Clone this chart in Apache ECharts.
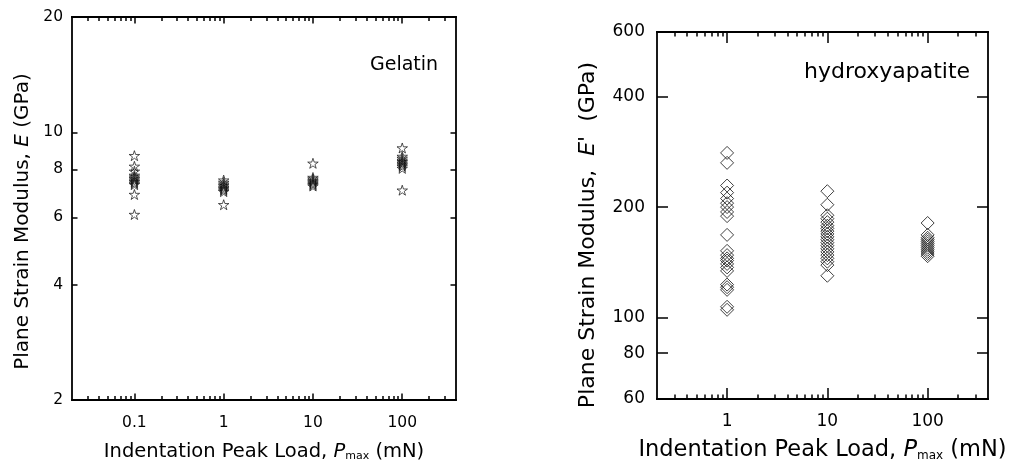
<!DOCTYPE html>
<html><head><meta charset="utf-8">
<script src="https://cdn.jsdelivr.net/npm/echarts@6/dist/echarts.min.js"></script>
<style>html,body{margin:0;padding:0;background:#fff}#c{width:1013px;height:467px}</style>
</head><body><div id="c"></div>
<script>
// ---- data ----
const gelLoads = [0.1, 1, 10, 100];
const gelAt01 = [8.69, 8.15, 7.91, 7.72, 7.64, 7.57, 7.50, 7.43, 7.36, 7.30, 6.88, 6.10];
const gelAt1 = [7.50, 7.40, 7.32, 7.25, 7.18, 7.12, 7.06, 7.00, 6.47];
const gelAt10 = [8.30, 7.62, 7.55, 7.48, 7.42, 7.36, 7.30, 7.24];
const gelAt100 = [9.10, 8.65, 8.55, 8.45, 8.38, 8.30, 8.22, 8.15, 8.05, 7.06];

const haLoads = [1, 10, 100];
const haAt1 = [281, 264, 229, 219, 211, 205, 200, 194, 189, 168, 152, 148, 145, 143, 140, 137, 134, 123, 121, 119, 107, 105];
const haAt10 = [221, 203, 190, 186, 182, 178, 175, 172, 169, 166, 163, 160, 157, 154, 151, 148, 145, 142, 139, 130];
const haAt100 = [181, 168, 165, 163, 161, 159, 157, 155, 153, 151, 149, 147];

// ---- ticks ----
const gelXLabels = [0.1, 1, 10, 100];
const gelXMinor = [0.03,0.04,0.05,0.06,0.07,0.08,0.09,0.2,0.3,0.4,0.5,0.6,0.7,0.8,0.9,2,3,4,5,6,7,8,9,20,30,40,50,60,70,80,90,200,300];
const gelYLabels = [2, 4, 6, 8, 10, 20];
const gelYTicks = [4, 6, 8, 10];
const haXLabels = [1, 10, 100];
const haXMinor = [0.3,0.4,0.5,0.6,0.7,0.8,0.9,2,3,4,5,6,7,8,9,20,30,40,50,60,70,80,90,200,300];
const haYLabels = [60, 80, 100, 200, 400, 600];
const haYTicks = [80, 100, 200, 400];

const FONT = 'DejaVu Sans';
const BLACK = '#000';
const fmt = v => String(+(+v).toPrecision(6));

function pairs(x, ys) { return ys.map(y => [x, y]); }
const gelSeriesData = [].concat(
  pairs(gelLoads[0], gelAt01), pairs(gelLoads[1], gelAt1),
  pairs(gelLoads[2], gelAt10), pairs(gelLoads[3], gelAt100));
const haSeriesData = [].concat(
  pairs(haLoads[0], haAt1), pairs(haLoads[1], haAt10), pairs(haLoads[2], haAt100));

const STAR = 'path://M50 0 L61.17 34.63 L97.55 34.55 L68.07 55.87 L79.39 90.45 L50 69 L20.61 90.45 L31.93 55.87 L2.45 34.55 L38.83 34.63 Z';

function line() { return {show: true, lineStyle: {color: BLACK, width: 1.8}}; }
function tick(len, vals) { return {show: true, inside: true, length: len, customValues: vals, lineStyle: {color: BLACK, width: 1.5}}; }

function xAxes(grid, min, max, labels, minor, majLen, minLen, fs, nfs, subShift, gap, margin) {
  const base = () => ({type: 'log', logBase: 10, gridIndex: grid, min: min, max: max, splitLine: {show: false}, axisLine: line()});
  return [
    Object.assign(base(), {position: 'bottom',
      axisTick: tick(majLen, labels),
      axisLabel: {customValues: labels, formatter: fmt, color: BLACK, fontFamily: FONT, fontSize: fs, margin: margin},
      name: '{n|Indentation Peak Load, }{i|P}{s|max}{n| (mN)}', nameLocation: 'middle', nameGap: gap,
      nameTextStyle: {color: BLACK, fontFamily: FONT, rich: {
        n: {fontFamily: FONT, fontSize: nfs, color: BLACK},
        i: {fontFamily: FONT, fontSize: nfs, fontStyle: 'italic', color: BLACK},
        s: {fontFamily: FONT, fontSize: Math.round(nfs*0.55), color: BLACK, padding: [subShift*2, 0, 0, 0]}}}}),
    Object.assign(base(), {position: 'bottom', axisTick: tick(minLen, minor), axisLabel: {show: false}}),
    Object.assign(base(), {position: 'top', axisTick: tick(majLen, labels), axisLabel: {show: false}}),
    Object.assign(base(), {position: 'top', axisTick: tick(minLen, minor), axisLabel: {show: false}})
  ];
}
function yAxes(grid, min, max, labels, ticks, len, fs, nameRich, nfs, gap, shift, margin) {
  const base = () => ({type: 'log', logBase: 10, gridIndex: grid, min: min, max: max, splitLine: {show: false}, axisLine: line()});
  return [
    Object.assign(base(), {position: 'left',
      axisTick: tick(len, ticks),
      axisLabel: {customValues: labels, formatter: fmt, color: BLACK, fontFamily: FONT, fontSize: fs, margin: margin},
      name: nameRich, nameLocation: 'middle', nameGap: gap,
      nameTextStyle: {color: BLACK, fontFamily: FONT, padding: [0, shift, 0, 0], rich: {
        n: {fontFamily: FONT, fontSize: nfs, color: BLACK},
        i: {fontFamily: FONT, fontSize: nfs, fontStyle: 'italic', color: BLACK}}}}),
    Object.assign(base(), {position: 'right', axisTick: tick(len, ticks), axisLabel: {show: false}})
  ];
}

const option = {
  animation: false,
  backgroundColor: '#fff',
  grid: [
    {left: 72, top: 17, width: 384, height: 384},
    {left: 657, top: 32, width: 331, height: 367}
  ],
  xAxis: [].concat(
    xAxes(0, 0.02, 400, gelXLabels, gelXMinor, 6.5, 4, 15.5, 19.5, 5, 41, 15),
    xAxes(1, 0.2, 400, haXLabels, haXMinor, 11, 4.5, 17, 22.5, 6, 39, 14)
  ),
  yAxis: [].concat(
    yAxes(0, 2, 20, gelYLabels, gelYTicks, 5.5, 15.5, '{n|Plane Strain Modulus, }{i|E}{n| (GPa)}', 20, 39, 26, 9),
    yAxes(1, 60, 600, haYLabels, haYTicks, 11, 17, "{n|Plane Strain Modulus,  }{i|E}{n|'  (GPa)}", 22, 58, 39, 12)
  ),
  series: [
    {type: 'scatter', xAxisIndex: 0, yAxisIndex: 0, data: gelSeriesData, symbol: STAR, symbolSize: [10.5, 10],
     itemStyle: {color: 'rgba(0,0,0,0)', borderColor: '#111', borderWidth: 0.9}},
    {type: 'scatter', xAxisIndex: 4, yAxisIndex: 2, data: haSeriesData, symbol: 'diamond', symbolSize: 13,
     itemStyle: {color: 'rgba(0,0,0,0)', borderColor: '#111', borderWidth: 1}}
  ],
  graphic: [
    {type: 'text', left: 370, top: 56, style: {text: 'Gelatin', fontFamily: FONT, fontSize: 19, fill: BLACK}},
    {type: 'text', left: 804, top: 61, style: {text: 'hydroxyapatite', fontFamily: FONT, fontSize: 22, fill: BLACK}}
  ]
};
echarts.init(document.getElementById('c'), null, {renderer: 'canvas'}).setOption(option);
</script>
</body></html>
